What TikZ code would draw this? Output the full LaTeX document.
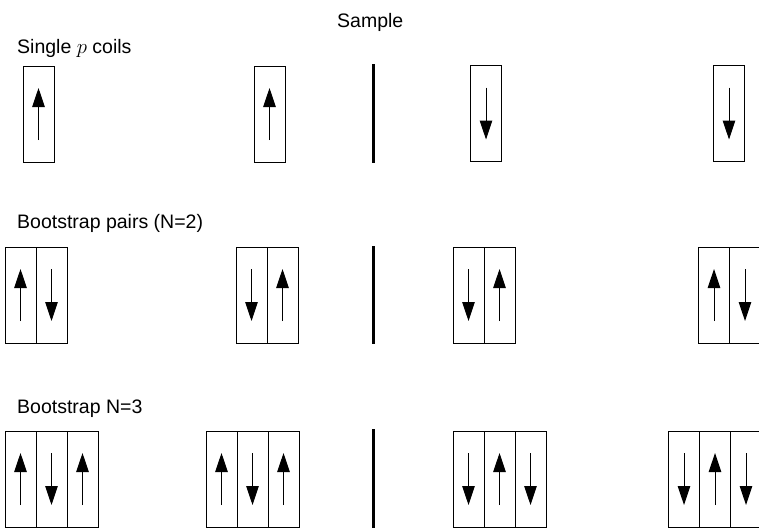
\documentclass[tikz,border=0pt]{standalone}
\usepackage{fontspec}
\setmainfont{Liberation Sans}
\usetikzlibrary{arrows.meta}
\tikzset{
  cellbox/.style={draw=black, line width=1pt},
  fieldarrow/.style={line width=1pt, -{Triangle[length=19pt,width=12.5pt]}},
  samplebar/.style={line width=2.8pt},
  caption/.style={anchor=base west, inner sep=0pt, font=\fontsize{19.5}{23}\selectfont},
}
% cell with arrow: #1 = left x, #2 = top y, #3 = +1 up / -1 down
\newcommand{\coilcell}[3]{%
  \draw[cellbox] (#1,#2) rectangle ++(31,96);
  \draw[fieldarrow] (#1+15.5,#2+48+26*#3) -- (#1+15.5,#2+48-26*#3);
}
\begin{document}
\begin{tikzpicture}[x=1pt,y=-1pt]
\useasboundingbox (0,0) rectangle (759,531);
\clip (0,0) rectangle (759,531);

% captions
\node[caption] (sample) at (337,27) {Sample};
\node[caption] (single) at (17,53.5) {Single $p$ coils};
\node[caption] (pairs) at (17,228) {Bootstrap pairs (N=2)};
\node[caption] (three) at (17,413) {Bootstrap N=3};

% sample bars
\draw[samplebar] (373.3,64) -- (373.3,163);
\draw[samplebar] (373.3,246) -- (373.3,344);
\draw[samplebar] (373.3,429) -- (373.3,528);

% row 1: single coils
\coilcell{23}{66}{1}
\coilcell{254}{66}{1}
\coilcell{470.5}{65.5}{-1}
\coilcell{713.5}{65.5}{-1}

% row 2: bootstrap pairs
\coilcell{5}{247}{1}    \coilcell{36}{247}{-1}
\coilcell{236}{247}{-1} \coilcell{267}{247}{1}
\coilcell{453}{247}{-1} \coilcell{484}{247}{1}
\coilcell{698.5}{247}{1} \coilcell{729.5}{247}{-1}

% row 3: bootstrap N=3
\coilcell{5}{431}{1}     \coilcell{36}{431}{-1}    \coilcell{67}{431}{1}
\coilcell{206}{431}{1}   \coilcell{237}{431}{-1}   \coilcell{268}{431}{1}
\coilcell{453}{431}{-1}  \coilcell{484}{431}{1}    \coilcell{515}{431}{-1}
\coilcell{668.5}{431}{-1} \coilcell{699.5}{431}{1} \coilcell{730.5}{431}{-1}
\end{tikzpicture}
\end{document}
